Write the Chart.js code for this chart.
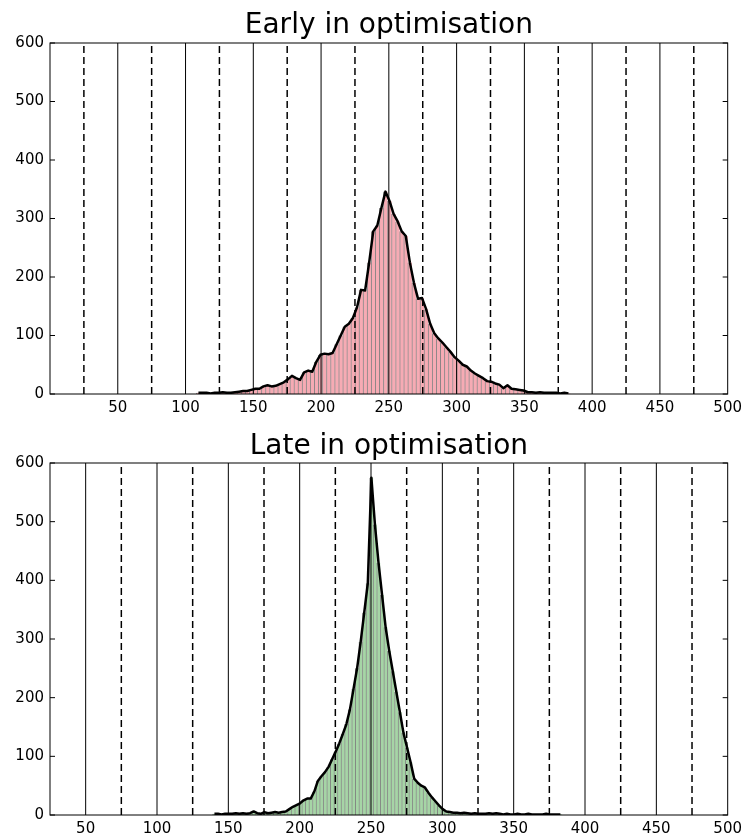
<!DOCTYPE html>
<html>
<head>
<meta charset="utf-8">
<script src="https://cdn.jsdelivr.net/npm/chart.js@4.4.0/dist/chart.umd.min.js"></script>
<style>
  body { margin: 0; background: #fff; }
  canvas { position: absolute; left: 0; }
  #early { top: 0; }
  #late { top: 418px; }
</style>
</head>
<body>
<canvas id="early" width="747" height="418"></canvas>
<canvas id="late" width="747" height="418"></canvas>
<script>
// histogram counts
const earlyStart = 108;
const earlyBin = 3;
const earlyCounts = [
  2, 2, 2, 1, 2, 2, 3, 2, 2, 3,
  4, 5, 5, 7, 9, 9, 13, 15, 13, 14,
  17, 20, 25, 31, 27, 24, 37, 40, 38, 55,
  67, 69, 68, 70, 85, 100, 115, 120, 130, 148,
  178, 177, 225, 278, 288, 318, 346, 330, 308, 295,
  278, 270, 225, 190, 163, 164, 145, 120, 104, 95,
  88, 80, 72, 63, 57, 50, 47, 40, 35, 31,
  27, 22, 21, 18, 16, 10, 15, 9, 8, 7,
  6, 3, 3, 2, 3, 2, 2, 2, 2, 1,
  2, 1
];

const lateStart = 139;
const lateBin = 2.5;
const lateCounts = [
  2, 2, 1, 2, 2, 2, 3, 2, 3, 2,
  3, 6, 3, 2, 5, 3, 4, 5, 4, 5,
  6, 10, 14, 17, 20, 25, 28, 28, 40, 58,
  66, 73, 82, 95, 108, 122, 138, 155, 180, 215,
  250, 295, 345, 395, 575, 495, 430, 375, 320, 280,
  245, 210, 175, 140, 115, 90, 62, 55, 50, 47,
  38, 30, 23, 16, 10, 6, 5, 4, 4, 3,
  4, 3, 2, 3, 2, 2, 2, 3, 2, 3,
  2, 1, 2, 1, 1, 2, 1, 1, 2, 1,
  1, 1, 1, 2, 1, 1, 1, 1
];

const solidAt = [50, 100, 150, 200, 250, 300, 350, 400, 450];
const dashedAt = [25, 75, 125, 175, 225, 275, 325, 375, 425, 475];
const xTicks = [50, 100, 150, 200, 250, 300, 350, 400, 450, 500];
const yTicks = [0, 100, 200, 300, 400, 500, 600];

const FONT = 'DejaVu Sans';

// box around the axes plus matplotlib-style inward y ticks
const framePlugin = {
  id: 'frame',
  afterDatasetsDraw(chart) {
    const { ctx, chartArea: a, scales } = chart;
    ctx.save();
    ctx.strokeStyle = '#000';
    ctx.lineWidth = 1;
    ctx.strokeRect(a.left, a.top, a.right - a.left, a.bottom - a.top);
    ctx.beginPath();
    yTicks.forEach(v => {
      const y = scales.y.getPixelForValue(v);
      ctx.moveTo(a.left, y); ctx.lineTo(a.left + 5, y);
      ctx.moveTo(a.right - 5, y); ctx.lineTo(a.right, y);
    });
    ctx.stroke();
    ctx.restore();
  }
};

function vline(v, dashed) {
  return {
    type: 'line',
    data: [{ x: v, y: 0 }, { x: v, y: 600 }],
    borderColor: '#000',
    borderWidth: dashed ? 1.5 : 1,
    borderDash: dashed ? [7, 4] : [],
    pointRadius: 0,
    order: 1
  };
}

function makeChart(id, title, start, bin, counts, xMin, fill, titlePad, xAxisH) {
  const pts = counts.map((c, i) => ({ x: start + bin * (i + 0.5), y: c }));
  new Chart(document.getElementById(id), {
    type: 'bar',
    data: {
      datasets: [
        {
          type: 'line',
          data: pts,
          borderColor: '#000',
          borderWidth: 2.5,
          borderJoinStyle: 'round',
          pointRadius: 0,
          tension: 0,
          order: 0
        },
        ...solidAt.filter(v => v > xMin).map(v => vline(v, false)),
        ...dashedAt.filter(v => v > xMin).map(v => vline(v, true)),
        {
          type: 'bar',
          data: pts,
          backgroundColor: fill,
          borderColor: 'rgba(0,0,0,0.45)',
          borderWidth: { left: 1, right: 0, top: 0, bottom: 0 },
          barPercentage: 1,
          categoryPercentage: 1,
          order: 2
        }
      ]
    },
    options: {
      responsive: false,
      animation: false,
      layout: { padding: { left: 0, right: 16, top: 0, bottom: 0 } },
      plugins: {
        legend: { display: false },
        tooltip: { enabled: false },
        title: {
          display: true,
          text: title,
          fullSize: false,
          color: '#000',
          font: { family: FONT, size: 28, weight: 'normal', lineHeight: 1.1 },
          padding: titlePad
        }
      },
      scales: {
        x: {
          type: 'linear',
          min: xMin,
          max: 500,
          offset: false,
          grid: { display: false, drawTicks: false },
          border: { display: false },
          ticks: { color: '#000', font: { family: FONT, size: 15 }, padding: 5, maxRotation: 0, autoSkip: false },
          afterBuildTicks(s) { s.ticks = xTicks.map(v => ({ value: v })); },
          afterFit(s) { s.height = xAxisH; }
        },
        y: {
          min: 0,
          max: 600,
          grid: { display: false, drawTicks: false },
          border: { display: false },
          ticks: { stepSize: 100, color: '#000', font: { family: FONT, size: 15 }, padding: 6 },
          afterFit(s) { s.width = 50; }
        }
      }
    },
    plugins: [framePlugin]
  });
}

makeChart('early', 'Early in optimisation', earlyStart, earlyBin, earlyCounts, 0,
  '#f6abb4', { top: 9.9, bottom: 2.3 }, 24);
makeChart('late', 'Late in optimisation', lateStart, lateBin, lateCounts, 25,
  '#a6d5a6', { top: 13.6, bottom: 0.6 }, 21);
</script>
</body>
</html>
